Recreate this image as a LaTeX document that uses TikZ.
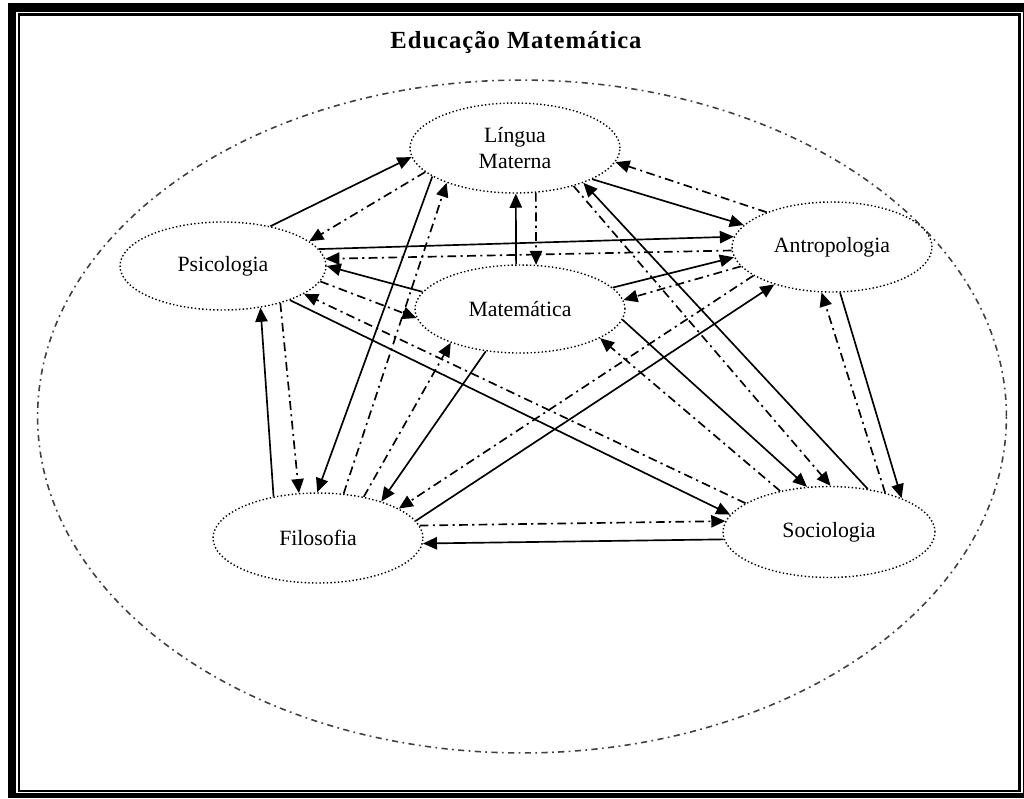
\documentclass[tikz,border=0pt]{standalone}
\usepackage{fontspec}
\setmainfont{Liberation Serif}
\newfontfamily\titlefont[LetterSpace=4]{Liberation Serif}
\usetikzlibrary{shapes.geometric,arrows.meta}

\begin{document}
\begin{tikzpicture}[x=0.02cm,y=-0.02cm,>={Triangle[length=8pt,width=7pt]},line width=0.95pt,
  campo/.style={ellipse,draw,line width=0.8pt,dash pattern=on 0.8pt off 1.3pt,inner sep=0pt,
    font=\fontsize{12.4}{14.5}\selectfont,align=center},
  traco/.style={dash pattern=on 5pt off 2.5pt on 1.2pt off 2.5pt}]
  \useasboundingbox (0,0) rectangle (1024,798);

  % moldura
  \fill (8,3) rectangle (1024,798);
  \fill[white] (16,12) rectangle (1022.7,792.7);
  \draw[line width=1.3pt] (19.3,14.5) rectangle (1019.5,791.2);

  % titulo e elipse exterior
  \node (titulo) at (516,42) {\titlefont\fontsize{14}{16}\selectfont\bfseries Educação Matemática};
  \draw[black!75,line width=0.9pt,dash pattern=on 3.5pt off 2.5pt on 1pt off 2.5pt]
    (522,416.5) ellipse [x radius=9.69cm, y radius=6.73cm];

  % areas
  \node[campo,minimum width=4.2cm,minimum height=1.8cm] (L) at (515,148) {Língua\\Materna};
  \node[campo,minimum width=4.12cm,minimum height=1.76cm] (P) at (223,266) {Psicologia};
  \node[campo,minimum width=4cm,minimum height=1.8cm] (A) at (832,247) {Antropologia};
  \node[campo,minimum width=4.2cm,minimum height=1.76cm] (M) at (520,309) {Matemática};
  \node[campo,minimum width=4.2cm,minimum height=1.8cm] (F) at (318,538) {Filosofia};
  \node[campo,minimum width=4.24cm,minimum height=1.82cm] (S) at (829,532) {Sociologia};

  % Língua Materna
  \draw[->] (P.40) -- (L.185);
  \draw[->,traco] (L.195) -- (P.16);
  \draw[->] (L.338) -- (A.166);
  \draw[->,traco] (A.152) -- (L.352);
  \draw[->] (M.95) -- (L.271);
  \draw[->,traco] (L.295) -- (M.70);
  \draw[->] (L.199) -- (F.91);
  \draw[->,traco] (F.60) -- (L.207);
  \draw[->] (S.48) -- (L.333);
  \draw[->,traco] (L.327) -- (S.88);

  % Psicologia
  \draw[->] (P.10) -- (A.174);
  \draw[->,traco] (A.182) -- (P.4);
  \draw[->] (M.170) -- (P.0);
  \draw[->,traco] (P.351) -- (M.185);
  \draw[->] (F.137) -- (P.312);
  \draw[->,traco] (P.327) -- (F.113);
  \draw[->] (P.333) -- (S.170);
  \draw[->,traco] (S.161) -- (P.341);

  % Antropologia
  \draw[->] (M.13) -- (A.186);
  \draw[->,traco] (A.192) -- (M.5);
  \draw[->] (F.10) -- (A.213);
  \draw[->,traco] (A.200) -- (F.20);
  \draw[->] (A.280) -- (S.25);
  \draw[->,traco] (S.35) -- (A.257);

  % Matemática, Filosofia e Sociologia
  \draw[->] (M.231) -- (F.30);
  \draw[->,traco] (F.42) -- (M.206);
  \draw[->] (M.354) -- (S.116);
  \draw[->,traco] (S.140) -- (M.340);
  \draw[->,traco] (F.7) -- (S.174);
  \draw[->] (S.184) -- (F.357);
\end{tikzpicture}
\end{document}
